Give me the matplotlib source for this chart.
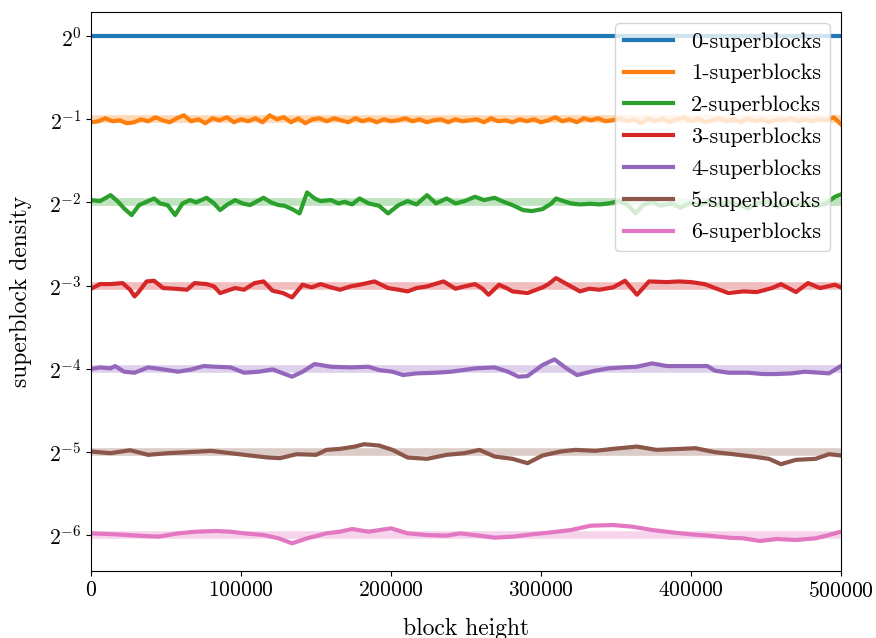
import numpy as np
import matplotlib
matplotlib.use("Agg")
import matplotlib.pyplot as plt

plt.rcParams['font.family'] = 'serif'
plt.rcParams['font.serif'] = ['cmr10']
plt.rcParams['mathtext.fontset'] = 'cm'
plt.rcParams['axes.formatter.use_mathtext'] = True
plt.rcParams['axes.unicode_minus'] = False


# =====================================
# Superblock densities (log2), heights in thousands of blocks
# =====================================

zero_heights = [0, 500]
zero_log2 = [0.0, 0.0]

# 1-superblocks sampled evenly over the whole chain
one_log2 = [
    -1.036, -1.024, -0.988, -1.024, -1.012, -1.048, -1.036, -1.000, -1.024, -0.976,
    -1.012, -1.036, -0.988, -0.952, -1.024, -1.000, -1.048, -0.988, -1.012, -0.976,
    -1.036, -1.000, -1.024, -0.988, -1.036, -0.952, -1.000, -0.976, -1.036, -0.988,
    -1.048, -1.000, -0.988, -1.024, -0.988, -1.012, -1.036, -0.988, -1.024, -1.000,
    -1.036, -1.000, -1.024, -1.012, -0.988, -1.024, -1.000, -1.036, -1.012, -1.000,
    -1.036, -1.000, -1.024, -1.012, -1.000, -1.036, -0.988, -1.024, -1.012, -1.036,
    -1.000, -1.024, -1.000, -1.036, -1.012, -0.976, -1.024, -1.000, -1.036, -0.988,
    -1.012, -0.988, -1.024, -1.012, -0.988, -1.024, -1.000, -1.048, -0.988, -1.024,
    -0.988, -1.036, -1.000, -0.976, -1.024, -0.988, -1.036, -1.012, -0.988, -1.024,
    -1.000, -1.036, -0.988, -1.024, -1.000, -1.036, -1.000, -1.012, -0.988, -1.024,
    -1.000, -1.024, -1.000, -1.012, -0.976, -1.060,
]
one_heights = np.linspace(0, 500, len(one_log2))

two_heights = [
    0, 6, 13, 18, 22, 27, 32, 37, 42, 46,
    51, 56, 61, 66, 70, 77, 82, 86, 91, 96,
    101, 106, 110, 115, 120, 125, 129, 134, 139, 144,
    149, 153, 160, 165, 169, 174, 179, 185, 192, 198,
    205, 211, 217, 224, 230, 237, 243, 249, 256, 262,
    269, 275, 281, 288, 294, 301, 307, 310, 315, 320,
    326, 333, 339, 345, 352, 358, 363, 368, 374, 380,
    387, 393, 400, 406, 412, 419, 425, 432, 438, 444,
    451, 457, 464, 470, 476, 483, 489, 496, 500,
]
two_log2 = [
    -1.972, -1.984, -1.912, -1.992, -2.072, -2.152, -2.032, -1.992, -1.952, -2.012,
    -2.032, -2.152, -2.012, -1.972, -2.000, -1.944, -2.012, -2.092, -2.024, -1.972,
    -2.012, -2.032, -1.992, -1.944, -2.000, -2.032, -2.040, -2.080, -2.132, -1.880,
    -1.952, -1.984, -1.972, -2.012, -1.992, -2.024, -1.952, -2.012, -2.040, -2.132,
    -2.032, -1.984, -2.024, -1.912, -2.012, -1.952, -2.012, -1.984, -1.932, -1.972,
    -1.944, -1.992, -2.032, -2.092, -2.104, -2.080, -2.012, -1.952, -1.984, -2.012,
    -2.024, -2.016, -2.024, -2.012, -1.984, -2.032, -2.132, -2.032, -1.992, -2.040,
    -2.012, -2.064, -2.000, -2.032, -1.984, -2.040, -1.992, -2.024, -2.072, -2.012,
    -1.992, -2.052, -2.012, -2.032, -2.000, -2.040, -2.024, -1.932, -1.904,
]

three_heights = [
    0, 6, 13, 21, 26, 29, 32, 37, 42, 48,
    56, 64, 69, 77, 82, 86, 96, 102, 109, 115,
    121, 128, 134, 141, 147, 153, 160, 166, 173, 179,
    189, 198, 205, 211, 217, 224, 235, 243, 249, 256,
    261, 265, 272, 277, 281, 291, 301, 305, 310, 316,
    326, 332, 339, 348, 356, 364, 372, 384, 392, 400,
    409, 416, 425, 435, 444, 454, 460, 470, 478, 486,
    496, 500,
]
three_log2 = [
    -3.038, -2.982, -2.982, -2.970, -3.050, -3.130, -3.070, -2.950, -2.942, -3.030,
    -3.038, -3.050, -2.970, -2.982, -3.010, -3.090, -3.030, -3.050, -2.970, -2.950,
    -3.062, -3.090, -3.142, -2.990, -3.022, -2.982, -3.022, -3.050, -3.010, -2.990,
    -2.950, -3.030, -3.050, -3.070, -3.030, -3.010, -2.950, -3.038, -3.010, -2.982,
    -3.038, -3.110, -2.990, -3.030, -3.070, -3.090, -3.022, -2.982, -2.910, -2.970,
    -3.070, -3.038, -3.050, -3.022, -2.942, -3.110, -2.950, -2.958, -2.950, -2.958,
    -2.982, -3.030, -3.090, -3.070, -3.078, -3.030, -2.982, -3.078, -2.970, -3.030,
    -2.990, -3.022,
]

four_heights = [
    0, 6, 13, 16, 22, 29, 38, 48, 58, 67,
    75, 83, 93, 102, 112, 121, 128, 134, 141, 149,
    160, 173, 185, 192, 201, 208, 217, 230, 240, 256,
    269, 278, 285, 291, 301, 309, 317, 324, 336, 345,
    355, 364, 374, 384, 393, 403, 411, 416, 425, 438,
    448, 457, 467, 476, 486, 492, 500,
]
four_log2 = [
    -4.004, -3.984, -3.996, -3.968, -4.036, -4.048, -3.984, -4.008, -4.036, -4.008,
    -3.968, -3.976, -3.984, -4.048, -4.036, -4.008, -4.056, -4.096, -4.036, -3.944,
    -3.976, -3.984, -3.976, -4.016, -4.036, -4.076, -4.056, -4.048, -4.036, -3.996,
    -3.984, -4.036, -4.096, -4.088, -3.956, -3.888, -3.996, -4.076, -4.024, -3.996,
    -3.984, -3.976, -3.936, -3.968, -3.968, -3.968, -3.968, -4.024, -4.048, -4.048,
    -4.064, -4.064, -4.056, -4.036, -4.048, -4.056, -3.968,
]

five_heights = [
    0, 13, 26, 38, 51, 64, 80, 93, 106, 118,
    126, 137, 150, 157, 166, 176, 182, 192, 201, 211,
    224, 237, 249, 259, 269, 281, 291, 301, 313, 323,
    336, 348, 364, 377, 393, 403, 416, 428, 441, 452,
    460, 470, 483, 492, 500,
]
five_log2 = [
    -4.996, -5.016, -4.980, -5.036, -5.016, -5.004, -4.988, -5.016, -5.044, -5.068,
    -5.076, -5.028, -5.036, -4.976, -4.964, -4.936, -4.908, -4.924, -4.976, -5.068,
    -5.084, -5.036, -5.016, -4.976, -5.056, -5.084, -5.136, -5.044, -4.996, -4.976,
    -4.988, -4.964, -4.936, -4.976, -4.964, -4.956, -5.004, -5.028, -5.056, -5.084,
    -5.148, -5.096, -5.084, -5.028, -5.044,
]

six_heights = [
    0, 16, 32, 45, 58, 70, 83, 93, 102, 115,
    125, 134, 144, 157, 166, 174, 185, 200, 211, 224,
    237, 246, 259, 269, 281, 294, 307, 320, 333, 348,
    361, 374, 387, 400, 412, 425, 435, 446, 457, 470,
    483, 492, 500,
]
six_log2 = [
    -5.980, -5.992, -6.008, -6.020, -5.980, -5.960, -5.952, -5.960, -5.980, -6.000,
    -6.040, -6.100, -6.040, -5.980, -5.960, -5.928, -5.960, -5.920, -5.980, -6.000,
    -6.008, -5.980, -6.008, -6.032, -6.020, -5.992, -5.968, -5.940, -5.888, -5.880,
    -5.900, -5.940, -5.968, -5.992, -6.008, -6.032, -6.040, -6.072, -6.048, -6.060,
    -6.040, -6.000, -5.960,
]

series = [
    (zero_heights, zero_log2),
    (one_heights, one_log2),
    (two_heights, two_log2),
    (three_heights, three_log2),
    (four_heights, four_log2),
    (five_heights, five_log2),
    (six_heights, six_log2),
]


# =====================================
# Plot
# =====================================

fig, ax = plt.subplots(figsize=(8.76, 6.38), dpi=100)
fig.subplots_adjust(left=0.104, right=0.960, top=0.981, bottom=0.105)

for k, (heights, log2_density) in enumerate(series):
    color = f"C{k}"

    # expected density 2^-k
    if k > 0:
        ax.axhline(2.0 ** -k, color=color, lw=5.5, alpha=0.3, zorder=1)

    ax.plot(
        np.asarray(heights) * 1000,
        2.0 ** np.asarray(log2_density),
        color=color,
        lw=3,
        label=f"{k}-superblocks",
        zorder=2
    )

ax.set_yscale('log', base=2)
ax.set_yticks([2.0 ** -k for k in range(7)])
ax.set_ylim(2 ** -6.433, 2 ** 0.289)
ax.set_xlim(0, 500000)

ax.set_xlabel("block height", fontsize=17, labelpad=12)
ax.set_ylabel("superblock density", fontsize=17, labelpad=12)
ax.tick_params(labelsize=15.5)

ax.legend(
    loc='upper right',
    fontsize=16,
    handlelength=2.2,
    labelspacing=0.55
)

plt.savefig("out.png")
